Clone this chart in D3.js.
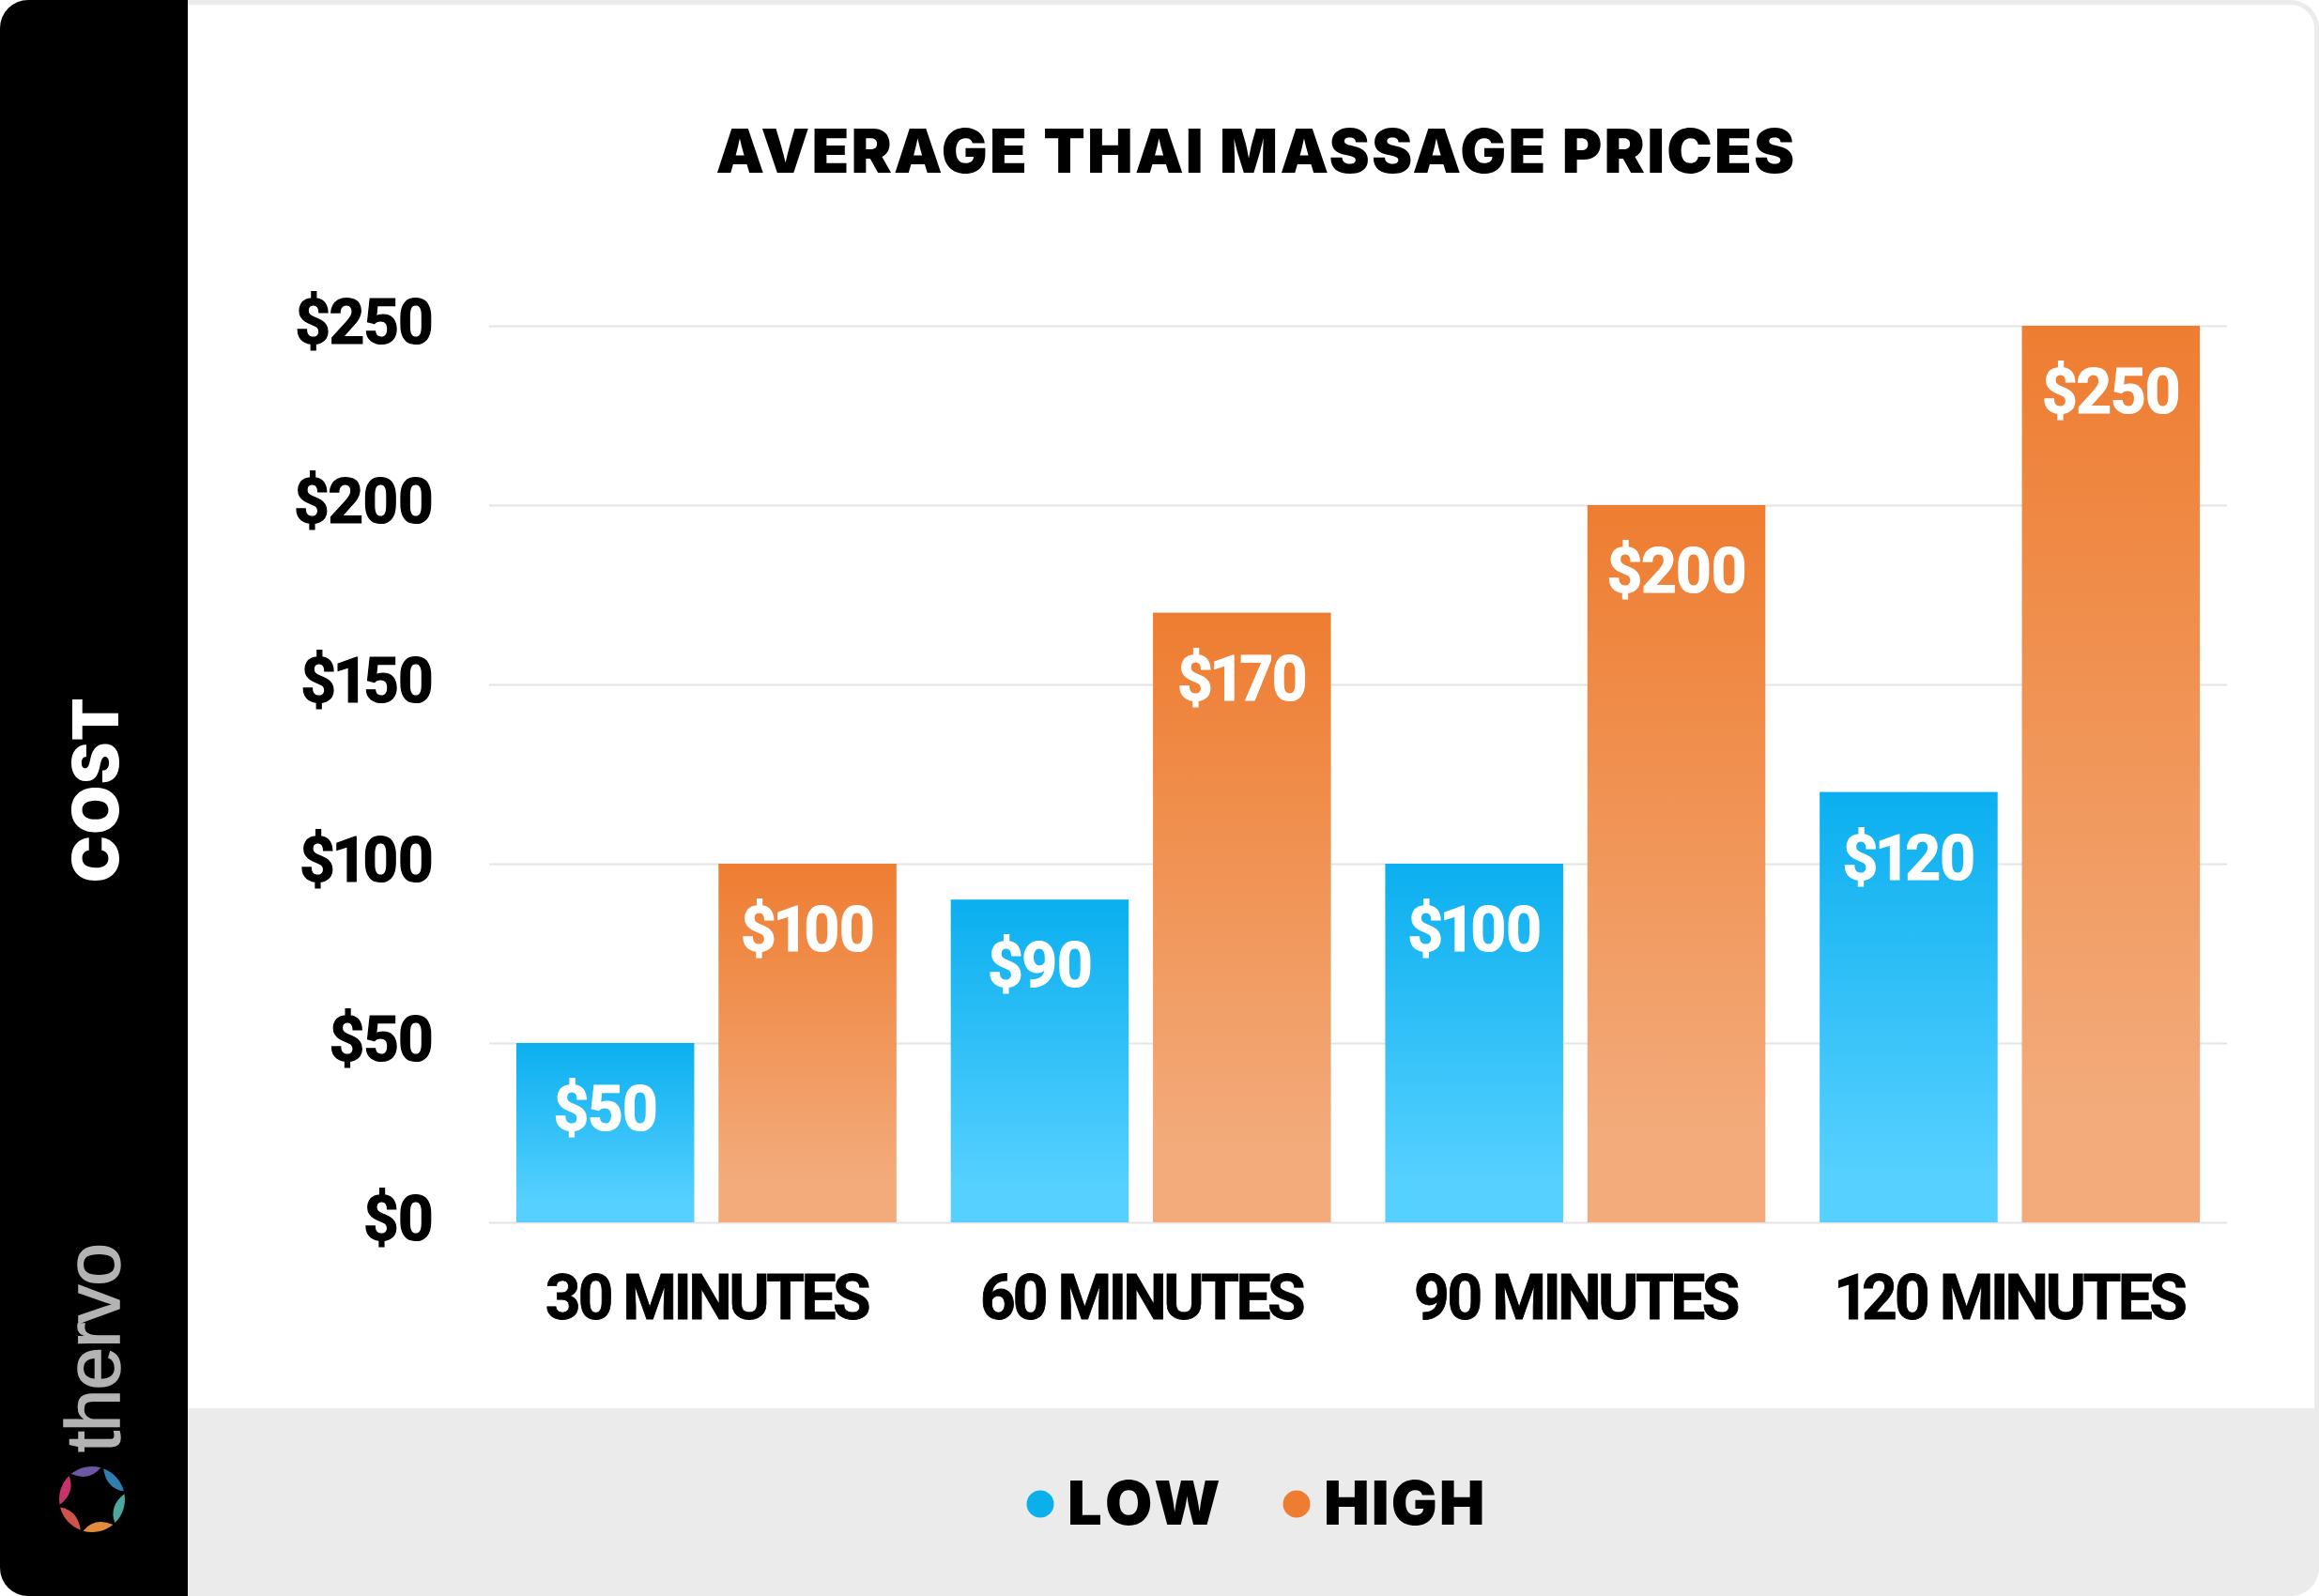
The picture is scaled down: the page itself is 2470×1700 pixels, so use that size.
<!DOCTYPE html>
<html>
<head>
<meta charset="utf-8">
<script src="https://cdn.jsdelivr.net/npm/d3@7"></script>
<style>
  html, body { margin: 0; padding: 0; background: #fff; }
  svg { display: block; }
  text { font-family: Roboto, sans-serif; font-weight: 700; font-variant-numeric: proportional-nums; }
  .grid line { stroke: #e4e4e4; stroke-width: 2px; }
  .grid path, .xaxis path, .xaxis line { display: none; }
  .heavy { font-family: Inter, sans-serif; font-weight: 900; }
</style>
</head>
<body>
<div id="chart"></div>
<script>
const categories = ['30 MINUTES', '60 MINUTES', '90 MINUTES', '120 MINUTES'];
const seriesNames = ['LOW', 'HIGH'];
const lowValues = [50, 90, 100, 120];
const highValues = [100, 170, 200, 250];
const yTicks = [0, 50, 100, 150, 200, 250];
const logoColors = ['#6a58a2', '#2f7eb2', '#4ea79c', '#e08c3c', '#cf5349', '#c7326b'];

const chartW = 2470, chartH = 1700;
const plotLeft = 521, plotRight = 2372, plotTop = 347, plotBottom = 1302;

const svg = d3.select('#chart').append('svg')
    .attr('width', chartW)
    .attr('height', chartH);

const defs = svg.append('defs');
const gradients = [
    { id: 'grad-low', from: '#0bafef', to: '#55d0ff' },
    { id: 'grad-high', from: '#ee7d31', to: '#f3ab7b' }
];
gradients.forEach(g => {
    const lg = defs.append('linearGradient').attr('id', g.id)
        .attr('x1', 0).attr('y1', 0).attr('x2', 0).attr('y2', 1);
    lg.append('stop').attr('offset', 0).attr('stop-color', g.from);
    lg.append('stop').attr('offset', 0.88).attr('stop-color', g.to);
});
defs.append('clipPath').attr('id', 'card')
    .append('rect').attr('width', chartW).attr('height', chartH).attr('rx', 30);

// card, legend band and black side panel
const card = svg.append('g').attr('clip-path', 'url(#card)');
card.append('rect').attr('width', chartW).attr('height', chartH).attr('fill', '#ebebeb');
card.append('rect').attr('x', 100).attr('y', 5).attr('width', chartW - 105).attr('height', 1495)
    .attr('rx', 25).attr('fill', '#fff');
card.append('rect').attr('x', 100).attr('y', 1400).attr('width', chartW - 105).attr('height', 100)
    .attr('fill', '#fff');
card.append('rect').attr('width', 200).attr('height', chartH).attr('fill', '#000');

const x = d3.scaleBand().domain(categories).range([plotLeft, plotRight])
    .paddingInner(0.125).paddingOuter(0.0625);
const xInner = d3.scaleBand().domain(seriesNames).range([0, x.bandwidth()])
    .paddingInner(0.12);
const y = d3.scaleLinear().domain([0, 250]).range([plotBottom, plotTop]);

// gridlines + y labels
const yAxis = svg.append('g').attr('class', 'grid')
    .attr('transform', `translate(${plotLeft},0)`)
    .call(d3.axisLeft(y).tickValues(yTicks).tickFormat(d => '$' + d)
        .tickSize(-(plotRight - plotLeft)).tickPadding(60));
yAxis.selectAll('text')
    .attr('font-size', 66)
    .attr('letter-spacing', -1.5)
    .attr('fill', '#000')
    .attr('stroke', '#000')
    .attr('stroke-width', 1.2)
    .attr('dy', 18);

const xAxis = svg.append('g').attr('class', 'xaxis')
    .attr('transform', `translate(0,${plotBottom})`)
    .call(d3.axisBottom(x).tickSize(0).tickPadding(0));
xAxis.selectAll('text')
    .attr('font-size', 66)
    .attr('letter-spacing', -3.6)
    .attr('fill', '#000')
    .attr('stroke', '#000')
    .attr('stroke-width', 0.8)
    .attr('y', 103)
    .attr('dy', 0);

// bars
const rows = categories.map((c, i) => ({ category: c, LOW: lowValues[i], HIGH: highValues[i] }));
const groups = svg.selectAll('.group').data(rows).enter().append('g')
    .attr('class', 'group')
    .attr('transform', d => `translate(${x(d.category)},0)`);

const cells = groups.selectAll('.cell')
    .data(d => seriesNames.map(name => ({ name: name, value: d[name] })))
    .enter();

cells.append('rect')
    .attr('x', d => xInner(d.name))
    .attr('y', d => y(d.value))
    .attr('width', xInner.bandwidth())
    .attr('height', d => y(0) - y(d.value))
    .attr('fill', d => d.name === 'LOW' ? 'url(#grad-low)' : 'url(#grad-high)');

cells.append('text')
    .attr('x', d => xInner(d.name) + xInner.bandwidth() / 2)
    .attr('y', d => y(d.value) + 93)
    .attr('text-anchor', 'middle')
    .attr('font-size', 66)
    .attr('letter-spacing', -1.5)
    .attr('fill', '#fff')
    .attr('stroke', '#fff')
    .attr('stroke-width', 1.2)
    .text(d => '$' + d.value);

// title
svg.append('text').attr('class', 'heavy')
    .attr('x', 1338).attr('y', 184)
    .attr('text-anchor', 'middle')
    .attr('font-size', 65)
    .attr('letter-spacing', 2.2)
    .attr('fill', '#000')
    .text('AVERAGE THAI MASSAGE PRICES');

// legend
const legendX = d3.scaleOrdinal().domain(seriesNames).range([1108, 1381]);
const legendColor = d3.scaleOrdinal().domain(seriesNames).range(['#0bafe9', '#ee7d31']);
const legend = svg.selectAll('.legend').data(seriesNames).enter().append('g')
    .attr('class', 'legend')
    .attr('transform', d => `translate(${legendX(d)},1602)`);
legend.append('circle').attr('r', 14.5).attr('fill', d => legendColor(d));
legend.append('text').attr('class', 'heavy')
    .attr('x', 29).attr('y', 22)
    .attr('font-size', 65)
    .attr('letter-spacing', d => d === 'LOW' ? 5 : 2)
    .attr('fill', '#000')
    .text(d => d);

// side panel text
svg.append('text').attr('class', 'heavy')
    .attr('transform', 'translate(126,841) rotate(-90)')
    .attr('text-anchor', 'middle')
    .attr('font-size', 67)
    .attr('letter-spacing', 1.5)
    .attr('fill', '#fff')
    .text('COST');

svg.append('text')
    .attr('transform', 'translate(127,1547) rotate(-90)')
    .attr('font-size', 82)
    .attr('letter-spacing', -1)
    .attr('stroke', '#b3b3b3')
    .attr('stroke-width', 1.5)
    .style('font-weight', 400)
    .style('font-family', "'Liberation Sans', sans-serif")
    .attr('fill', '#b3b3b3')
    .text('thervo');

// logo ring, six tapered blades
const logo = svg.append('g').attr('transform', 'translate(98,1597)');
const blade = d3.scaleLinear().domain([0, 6]).range([-Math.PI * 0.72, Math.PI * 1.28]);
logoColors.forEach((color, i) => {
    const a0 = blade(i), a1 = blade(i + 1) - 0.08;
    const p = d3.path();
    p.arc(0, 0, 35, a0, a1);
    p.quadraticCurveTo(19 * Math.cos(a0 + 0.55), 19 * Math.sin(a0 + 0.55), 35 * Math.cos(a0), 35 * Math.sin(a0));
    p.closePath();
    logo.append('path').attr('d', p.toString()).attr('fill', color);
});
</script>
</body>
</html>
